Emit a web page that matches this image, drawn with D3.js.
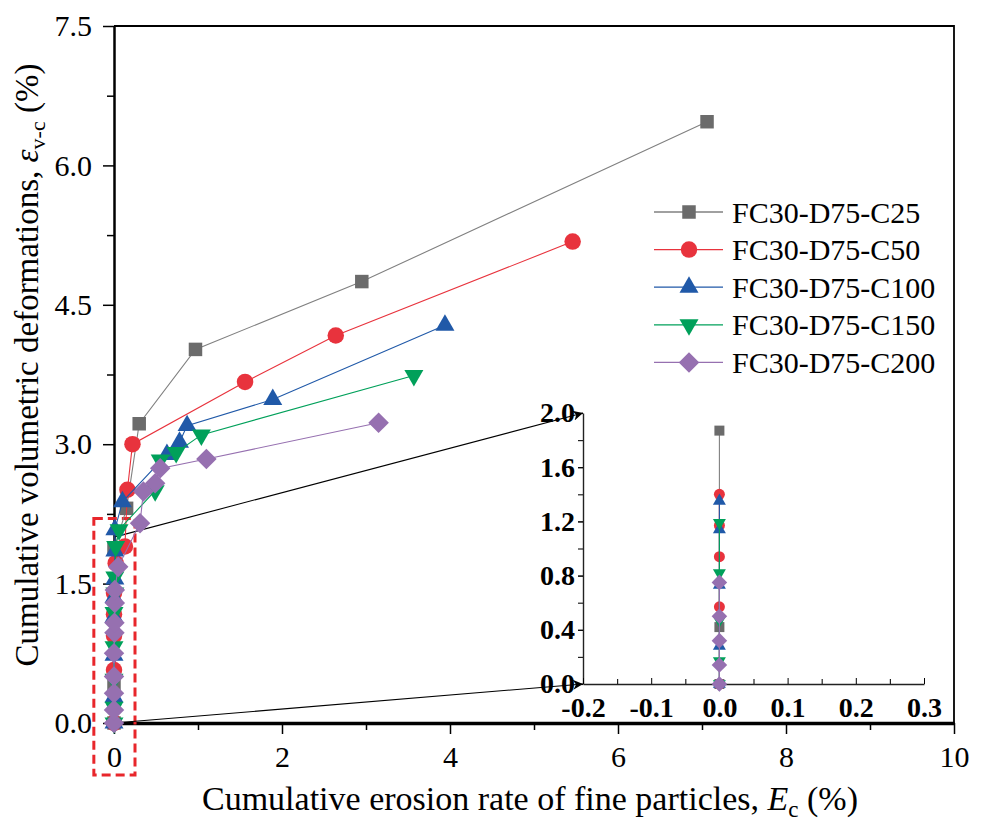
<!DOCTYPE html>
<html>
<head>
<meta charset="utf-8">
<script src="https://cdn.jsdelivr.net/npm/d3@7/dist/d3.min.js"></script>
<style>
body { margin: 0; background: #fff; }
svg { display: block; font-family: 'Liberation Serif', 'Times New Roman', serif; }
svg text { font-family: 'Liberation Serif', 'Times New Roman', serif; }
</style>
</head>
<body>
<svg></svg>
<script>
// series names, colours and [erosion rate, volumetric deformation] points
const seriesNames = ['FC30-D75-C25', 'FC30-D75-C50', 'FC30-D75-C100', 'FC30-D75-C150', 'FC30-D75-C200'];

const c25 = [[0, 0], [0, 0.42], [0, 1.87], [0.15, 2.31], [0.30, 3.22], [0.97, 4.02], [2.95, 4.75], [7.06, 6.47]];
const c50 = [[0, 0], [0, 0.57], [0, 0.94], [0, 1.17], [0, 1.40], [0.02, 1.72], [0.13, 1.90], [0.16, 2.51], [0.22, 3.00], [1.56, 3.67], [2.64, 4.17], [5.46, 5.18]];
const c100 = [[0, 0], [0, 0.28], [0, 0.73], [0, 1.14], [0, 1.35], [0.01, 1.55], [0.01, 1.85], [0.01, 2.08], [0.10, 2.38], [0.63, 2.89], [0.78, 3.02], [0.87, 3.20], [1.89, 3.48], [3.94, 4.28]];
const c150 = [[0, 0], [0, 0.17], [0, 0.47], [0, 0.82], [0, 1.19], [0.01, 1.40], [0.01, 1.57], [0.02, 1.90], [0.06, 2.08], [0.49, 2.50], [0.55, 2.83], [0.74, 2.91], [1.04, 3.10], [3.57, 3.74]];
const c200 = [[0, 0], [0, 0.14], [0, 0.32], [0, 0.50], [0, 0.75], [0.005, 0.97], [0.005, 1.08], [0.01, 1.29], [0.01, 1.43], [0.05, 1.68], [0.31, 2.15], [0.35, 2.49], [0.49, 2.58], [0.55, 2.74], [1.10, 2.84], [3.15, 3.23]];

const xTicks = [0, 2, 4, 6, 8, 10];
const yTicks = [0, 1.5, 3.0, 4.5, 6.0, 7.5];
const insetXTicks = [-0.2, -0.1, 0.0, 0.1, 0.2, 0.3];
const insetYTicks = [0, 0.4, 0.8, 1.2, 1.6, 2.0];

let allSeries = [c25, c50, c100, c150, c200];
let markerColors = ['#6b6b6b', '#e8333d', '#2059a8', '#00a05a', '#9670b0'];
let lineColors = ['#808080', '#e8333d', '#2059a8', '#00a05a', '#9670b0'];
let shapes = ['square', 'circle', 'up', 'down', 'diamond'];
let mainSizes = [13.5, 16.5, 19, 19, 14.5];
let insetSizes = [10, 11, 13, 13, 11];

let width = 984;
let height = 820;
let serif = "'Liberation Serif', 'Times New Roman', serif";

let svg = d3.select('svg').attr('width', width).attr('height', height);

let xScale = d3.scaleLinear().domain([0, 10]).range([114, 954]);
let yScale = d3.scaleLinear().domain([0, 7.5]).range([723, 26]);
let inX = d3.scaleLinear().domain([-0.2, 0.3]).range([583, 924]);
let inY = d3.scaleLinear().domain([0, 2]).range([684, 413]);

let mids = (ticks) => ticks.slice(1).map((t, i) => (t + ticks[i]) / 2);

let symbolPath = (shape, s) => {
    if (shape === 'square' || shape === 'diamond') return d3.symbol(d3.symbolSquare, s * s)();
    if (shape === 'circle') return d3.symbol(d3.symbolCircle, Math.PI * s * s / 4)();
    return d3.symbol(d3.symbolTriangle, s * s * 0.433)();
};
let symbolRotate = (shape) => shape === 'down' ? 180 : (shape === 'diamond' ? 45 : 0);

let fontTicks = (g, size, weight) => {
    g.attr('font-family', null);
    g.selectAll('text').attr('font-size', size).style('font-family', serif)
        .attr('font-weight', weight || 'normal').attr('fill', '#000');
    g.selectAll('line').attr('stroke', '#000');
};

// main axes + inset axes
let drawAxes = () => {
    svg.append('g').attr('transform', 'translate(0,723)')
        .call(d3.axisBottom(xScale).tickValues(mids(xTicks)).tickSize(7).tickFormat(''))
        .call(g => g.select('.domain').remove())
        .selectAll('line').attr('stroke', '#000').attr('stroke-width', 1.5);
    let xa = svg.append('g').attr('transform', 'translate(0,723)')
        .call(d3.axisBottom(xScale).tickValues(xTicks).tickSize(11).tickPadding(12).tickSizeOuter(0).tickFormat(d3.format('d')));
    fontTicks(xa, 30);
    xa.select('.domain').attr('stroke', '#000').attr('stroke-width', 3.5);
    xa.selectAll('line').attr('stroke-width', 1.5);

    svg.append('g').attr('transform', 'translate(114,0)')
        .call(d3.axisLeft(yScale).tickValues(mids(yTicks)).tickSize(7).tickFormat(''))
        .call(g => g.select('.domain').remove())
        .selectAll('line').attr('stroke', '#000').attr('stroke-width', 1.5);
    let ya = svg.append('g').attr('transform', 'translate(114,0)')
        .call(d3.axisLeft(yScale).tickValues(yTicks).tickSize(11).tickPadding(11).tickSizeOuter(0).tickFormat(d3.format('.1f')));
    fontTicks(ya, 30);
    ya.select('.domain').attr('stroke', '#000').attr('stroke-width', 2.5);
    ya.selectAll('line').attr('stroke-width', 1.5);

    // top and right frame
    svg.append('path')
        .attr('d', d3.line()([[xScale(0), yScale(7.5)], [xScale(10), yScale(7.5)], [xScale(10), yScale(0)]]))
        .attr('fill', 'none').attr('stroke', '#000').attr('stroke-width', 1.8);

    // inset axes
    let iy = svg.append('g').attr('transform', 'translate(583,0)')
        .call(d3.axisLeft(inY).tickValues(d3.range(0, 2.01, 0.2)).tickSize(5).tickFormat(''))
        .call(g => g.select('.domain').remove());
    iy.selectAll('line').attr('stroke', '#222').attr('stroke-width', 1.2);
    let iya = svg.append('g').attr('transform', 'translate(583,0)')
        .call(d3.axisLeft(inY).tickValues(insetYTicks).tickSize(5).tickPadding(3).tickSizeOuter(0).tickFormat(d3.format('.1f')));
    fontTicks(iya, 28, 'bold');
    iya.select('.domain').attr('stroke', '#222').attr('stroke-width', 1.4);

    let ix = svg.append('g').attr('transform', 'translate(0,684)')
        .call(d3.axisBottom(inX).tickValues(mids(insetXTicks)).tickSize(-5).tickFormat(''))
        .call(g => g.select('.domain').remove());
    ix.selectAll('line').attr('stroke', '#222').attr('stroke-width', 1.2);
    let ixa = svg.append('g').attr('transform', 'translate(0,684)')
        .call(d3.axisBottom(inX).tickValues(insetXTicks).tickSize(-6).tickPadding(13).tickSizeOuter(0)
            .tickFormat(d => d3.format('.1f')(d).replace('−', '-')));
    fontTicks(ixa, 28, 'bold');
    ixa.select('.domain').attr('stroke', '#222').attr('stroke-width', 1.4);
};

let drawAnnotations = () => {
    // dashed zoom box round x = 0
    svg.append('rect')
        .attr('x', xScale(-0.24)).attr('y', yScale(2.2))
        .attr('width', xScale(0.25) - xScale(-0.24)).attr('height', yScale(-0.56) - yScale(2.2))
        .attr('fill', 'none').attr('stroke', '#e8262b').attr('stroke-width', 3).attr('stroke-dasharray', '9,5');

    svg.append('defs').append('marker')
        .attr('id', 'arrow').attr('viewBox', '0 0 10 10').attr('refX', 10).attr('refY', 5)
        .attr('markerWidth', 14).attr('markerHeight', 10).attr('markerUnits', 'userSpaceOnUse').attr('orient', 'auto')
        .append('path').attr('d', 'M0,0L10,5L0,10L3,5Z').attr('fill', '#000');

    [[2, 2], [0, 0]].forEach(([mainY, insetY]) => {
        svg.append('line')
            .attr('x1', xScale(0)).attr('y1', yScale(mainY))
            .attr('x2', inX(-0.2)).attr('y2', inY(insetY))
            .attr('stroke', '#000').attr('stroke-width', 1.1).attr('marker-end', 'url(#arrow)');
    });
};

let drawSeries = (g, data, xs, ys, i, size) => {
    g.append('path')
        .datum(data)
        .attr('d', d3.line().x(d => xs(d[0])).y(d => ys(d[1])))
        .attr('fill', 'none').attr('stroke', lineColors[i]).attr('stroke-width', 1.1);
    g.selectAll('path.pt')
        .data(data)
        .enter()
        .append('path')
            .attr('class', 'pt')
            .attr('d', symbolPath(shapes[i], size))
            .attr('transform', d => 'translate(' + xs(d[0]) + ',' + ys(d[1]) + ') rotate(' + symbolRotate(shapes[i]) + ')')
            .attr('fill', markerColors[i]);
};

let drawData = () => {
    let main = svg.append('g');
    allSeries.forEach((s, i) => drawSeries(main.append('g'), s, xScale, yScale, i, mainSizes[i]));
    let ins = svg.append('g');
    allSeries.forEach((s, i) => {
        let zeroPts = s.filter(d => d[0] === 0 && d[1] <= 2);
        drawSeries(ins.append('g'), zeroPts, inX, inY, i, insetSizes[i]);
    });
};

let drawLegend = () => {
    let lg = svg.append('g');
    seriesNames.forEach((name, i) => {
        let y = 212 + i * 37.6;
        lg.append('line').attr('x1', 654).attr('x2', 723).attr('y1', y).attr('y2', y)
            .attr('stroke', lineColors[i]).attr('stroke-width', 1.3);
        lg.append('path').attr('d', symbolPath(shapes[i], mainSizes[i]))
            .attr('transform', 'translate(689,' + y + ') rotate(' + symbolRotate(shapes[i]) + ')')
            .attr('fill', markerColors[i]);
        lg.append('text').attr('x', 732).attr('y', y).attr('dy', '0.35em')
            .attr('font-size', 30).text(name);
    });
};

let drawTitles = () => {
    let xt = svg.append('text').attr('x', 530).attr('y', 810).attr('text-anchor', 'middle').attr('font-size', 34);
    xt.append('tspan').text('Cumulative erosion rate of fine particles, ');
    xt.append('tspan').attr('font-style', 'italic').text('E');
    xt.append('tspan').attr('font-size', 23).attr('dy', 7).text('c');
    xt.append('tspan').attr('dy', -7).text(' (%)');

    let yt = svg.append('text').attr('transform', 'translate(38,365) rotate(-90)').attr('text-anchor', 'middle').attr('font-size', 33);
    yt.append('tspan').text('Cumulative volumetric deformations, ');
    yt.append('tspan').attr('font-style', 'italic').text('ε');
    yt.append('tspan').attr('font-size', 22).attr('dy', 7).text('v-c');
    yt.append('tspan').attr('dy', -7).text(' (%)');
};

drawAxes();
drawAnnotations();
drawData();
drawLegend();
drawTitles();
</script>
</body>
</html>
